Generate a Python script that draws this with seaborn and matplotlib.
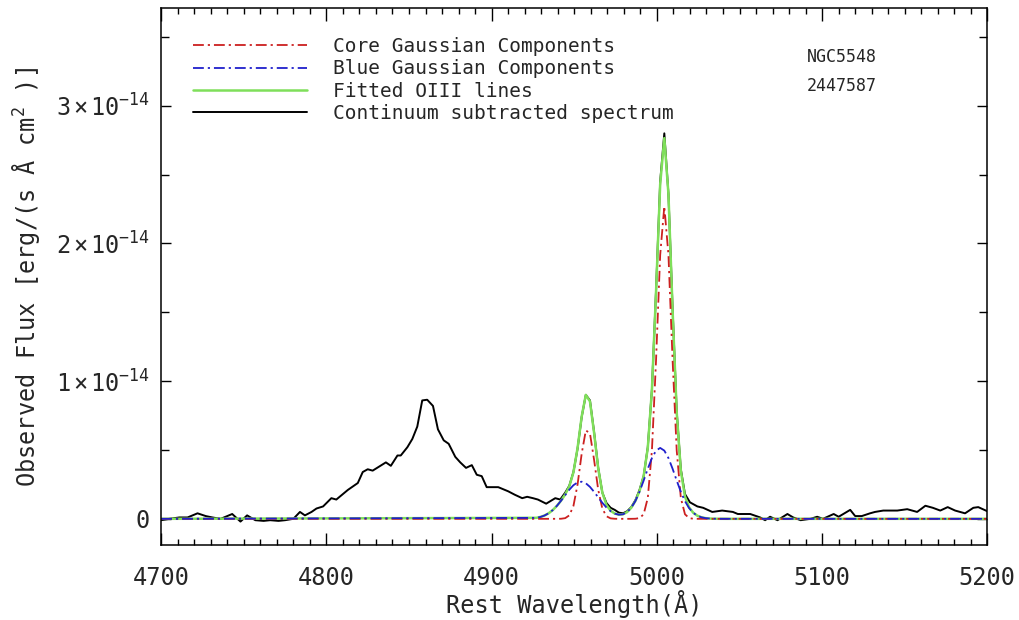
import numpy as np
import matplotlib
matplotlib.use("Agg")
import matplotlib.pyplot as plt
from matplotlib.ticker import MultipleLocator, FuncFormatter
import seaborn as sns

# ---------------- data (flux in units of 1e-14 erg/s/A/cm^2) ----------------
spec_wave = [4700, 4705, 4711, 4716, 4722, 4727, 4731, 4736, 4740, 4743, 4748, 4752,
             4757, 4762, 4766, 4771, 4775, 4780, 4784, 4787, 4791, 4794, 4798, 4803,
             4806, 4810, 4813, 4816, 4819, 4822, 4825, 4828, 4832, 4836, 4839, 4843,
             4845, 4849, 4852, 4855, 4858, 4861, 4864.5, 4867.5, 4871, 4874, 4878, 4881,
             4884.5, 4888, 4891, 4894, 4897, 4904, 4910, 4914, 4918.5, 4921.5, 4925, 4928,
             4933, 4938.5, 4941.5, 4944.5, 4947, 4949.5, 4952, 4954.5, 4957, 4959.5, 4962,
             4964.5, 4967, 4969.5, 4972, 4974.5, 4977, 4979.5, 4982, 4984.5, 4987, 4989.5,
             4992, 4994.5, 4997, 4999.5, 5002, 5004.5, 5007, 5009.5, 5012, 5014.5, 5017,
             5020, 5024.5, 5028, 5033.5, 5039.5, 5046, 5049, 5056.5, 5062.5, 5065.5, 5068.5,
             5073, 5079, 5082.5, 5087, 5093, 5097, 5100.5, 5107, 5110, 5117, 5120, 5124,
             5129, 5132, 5137, 5145.5, 5151.5, 5157.5, 5162.5, 5167, 5171.5, 5176, 5180.5,
             5186.5, 5191.5, 5194.5, 5199, 5200]
spec_flux = [-0.01, 0.0, 0.01, 0.01, 0.04, 0.02, 0.01, 0.0, 0.02, 0.035, -0.02, 0.025,
             -0.01, -0.015, -0.01, -0.015, -0.01, 0.0, 0.05, 0.025, 0.05, 0.075, 0.09, 0.15,
             0.14, 0.18, 0.21, 0.235, 0.26, 0.34, 0.36, 0.35, 0.38, 0.41, 0.385, 0.46,
             0.46, 0.52, 0.58, 0.67, 0.86, 0.865, 0.82, 0.65, 0.57, 0.545, 0.45, 0.41,
             0.37, 0.39, 0.32, 0.31, 0.23, 0.23, 0.20, 0.175, 0.15, 0.16, 0.15, 0.14,
             0.11, 0.15, 0.14, 0.19, 0.24, 0.34, 0.51, 0.74, 0.90, 0.86, 0.63,
             0.37, 0.19, 0.115, 0.08, 0.065, 0.045, 0.04, 0.055, 0.085, 0.135, 0.21,
             0.31, 0.52, 0.94, 1.66, 2.45, 2.80, 2.36, 1.53, 0.78, 0.36, 0.18,
             0.12, 0.09, 0.08, 0.05, 0.06, 0.05, 0.035, 0.035, 0.01, -0.01, 0.015,
             -0.01, 0.035, 0.01, -0.01, 0.0, 0.015, 0.0, 0.035, 0.015, 0.065, 0.02, 0.02,
             0.04, 0.05, 0.06, 0.06, 0.07, 0.05, 0.095, 0.08, 0.06, 0.085, 0.06,
             0.04, 0.08, 0.085, 0.06, 0.055]

# wavelength grid of the fitted model (2.5 A steps across the [OIII] region)
fit_wave = np.concatenate([[4700], np.arange(4927, 5043, 2.5), [5200]])

core_flux = [0.0,
             0.0, 0.0, 0.0, 0.0, 0.0, 0.0001, 0.0006, 0.0048, 0.0250, 0.0935, 0.2494,
             0.4739, 0.6424, 0.6211, 0.4282, 0.2105, 0.0739, 0.0185, 0.0033, 0.0004,
             0.0, 0.0, 0.0, 0.0, 0.0006, 0.0052, 0.0332, 0.1519, 0.4960, 1.1545, 1.9170,
             2.27, 1.9170, 1.1545, 0.4960, 0.1519, 0.0332, 0.0052, 0.0006, 0.0, 0.0, 0.0,
             0.0, 0.0, 0.0, 0.0, 0.0,
             0.0]
blue_flux = [0.0,
             0.0071, 0.0134, 0.0240, 0.0403, 0.0636, 0.0944, 0.1314, 0.1720, 0.2113,
             0.2441, 0.2647, 0.2697, 0.2581, 0.2321, 0.1960, 0.1557, 0.1163, 0.0820,
             0.0554, 0.0378, 0.0301, 0.0331, 0.0490, 0.0804, 0.1296, 0.1968, 0.2780,
             0.3639, 0.4414, 0.4955, 0.5150, 0.4955, 0.4414, 0.3639, 0.2778, 0.1963,
             0.1284, 0.0778, 0.0436, 0.0226, 0.0109, 0.0048, 0.0020, 0.0008, 0.0003,
             0.0001, 0.0,
             0.0]
fit_flux = [0.0,
            0.0071, 0.0134, 0.0240, 0.0403, 0.0636, 0.0945, 0.1320, 0.1768, 0.2363,
            0.3376, 0.5141, 0.7436, 0.9005, 0.8532, 0.6242, 0.3662, 0.1902, 0.1005,
            0.0587, 0.0382, 0.0301, 0.0331, 0.0490, 0.0804, 0.1302, 0.2020, 0.3112,
            0.5158, 0.9374, 1.6500, 2.4320, 2.7655, 2.3584, 1.5184, 0.7738, 0.3482,
            0.1616, 0.0830, 0.0442, 0.0226, 0.0109, 0.0048, 0.0020, 0.0008, 0.0003,
            0.0001, 0.0,
            0.0]

legend_labels = ["Core Gaussian Components", "Blue Gaussian Components",
                 "Fitted OIII lines", "Continuum subtracted spectrum"]
object_name = "NGC5548"
julian_date = "2447587"

# ---------------- style ----------------
sns.set_style("ticks")
mono = "DejaVu Sans Mono"
plt.rcParams["font.family"] = [mono, "DejaVu Sans"]
plt.rcParams["mathtext.fontset"] = "custom"
plt.rcParams["mathtext.rm"] = mono
plt.rcParams["mathtext.it"] = mono
plt.rcParams["mathtext.bf"] = mono

fig = plt.figure(figsize=(10.2, 6.2), dpi=100)
ax = fig.add_axes([0.158, 0.121, 0.810, 0.866])

red = "#cc2020"
blue = "#2020cc"
green = "#7fdf5a"
dashdot = (0, (6, 2.2, 1.2, 2.2))

l_spec = sns.lineplot(x=spec_wave, y=spec_flux, ax=ax, color="black", lw=1.4,
                      sort=False, estimator=None).lines[-1]
l_fit = sns.lineplot(x=fit_wave, y=fit_flux, ax=ax, color=green, lw=1.8,
                     sort=False, estimator=None).lines[-1]
l_core = sns.lineplot(x=fit_wave, y=core_flux, ax=ax, color=red, lw=1.3,
                      linestyle=dashdot, sort=False, estimator=None).lines[-1]
l_blue = sns.lineplot(x=fit_wave, y=blue_flux, ax=ax, color=blue, lw=1.3,
                      linestyle=dashdot, sort=False, estimator=None).lines[-1]

ax.set_xlim(4700, 5200)
ax.set_ylim(-0.19, 3.71)

ax.xaxis.set_major_locator(MultipleLocator(100))
ax.xaxis.set_minor_locator(MultipleLocator(10))
ax.yaxis.set_major_locator(MultipleLocator(1))
ax.yaxis.set_minor_locator(MultipleLocator(0.5))


def yfmt(v, pos):
    n = int(round(v))
    if n == 0:
        return "0"
    return r"$%d\times10^{-14}$" % n


ax.yaxis.set_major_formatter(FuncFormatter(yfmt))
ax.tick_params(axis="both", which="both", direction="in", top=True, right=True,
               width=1.0, color="black", labelsize=17)
ax.tick_params(axis="x", which="major", length=9, pad=15)
ax.tick_params(axis="x", which="minor", length=4.5)
ax.tick_params(axis="y", which="major", length=7, pad=8)
ax.tick_params(axis="y", which="minor", length=6)
for s in ax.spines.values():
    s.set_linewidth(1.1)
    s.set_color("black")

ax.set_xlabel("Rest Wavelength(Å)", fontsize=17, labelpad=0)
ax.set_ylabel("Observed Flux [erg/(s Å cm$^2$ )]", fontsize=17, labelpad=10)

leg = ax.legend([l_core, l_blue, l_fit, l_spec], legend_labels, loc="upper left",
                bbox_to_anchor=(0.038, 0.946), frameon=False, fontsize=14,
                handlelength=5.9, handletextpad=1.3, labelspacing=0.17,
                borderpad=0, borderaxespad=0)

ax.text(0.781, 0.909, object_name, transform=ax.transAxes, fontsize=12,
        va="center", ha="left")
ax.text(0.781, 0.855, julian_date, transform=ax.transAxes, fontsize=12,
        va="center", ha="left")

fig.savefig("out.png", dpi=100)
